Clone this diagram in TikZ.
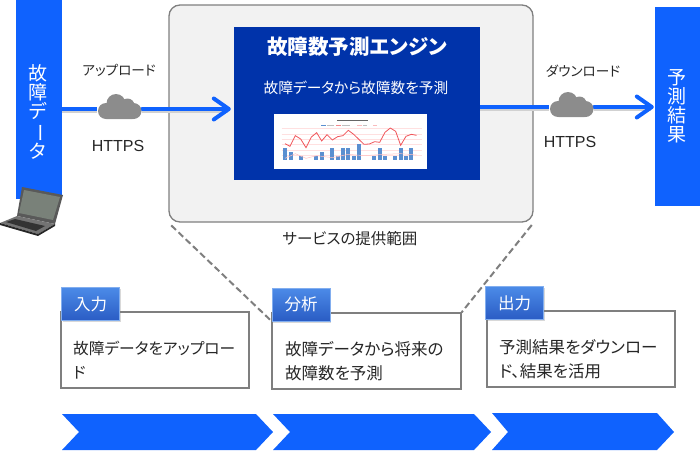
\documentclass[tikz,border=0pt]{standalone}
\usepackage{fontspec}
\setmainfont[RawFeature=+palt]{Noto Sans CJK JP}
\newfontfamily\latinfont{Liberation Sans}
\usetikzlibrary{arrows.meta,shadows}
\definecolor{flowblue}{HTML}{0F62FE}
\definecolor{engineblue}{HTML}{0033AA}
\definecolor{panelgray}{HTML}{F2F2F2}
\definecolor{edgegray}{HTML}{7F7F7F}
\definecolor{cloudgray}{HTML}{8C8C8C}
\definecolor{inkgray}{HTML}{262626}
\definecolor{tabtop}{HTML}{4C8BE8}
\definecolor{tabbottom}{HTML}{2A5CC4}
\definecolor{chartred}{HTML}{F0555A}
\definecolor{chartblue}{HTML}{5B8FD0}
\newcommand{\jpsize}[2]{\fontsize{#1}{#2}\selectfont}
\tikzset{
  sidebar/.style={fill=flowblue,minimum width=46pt,inner sep=0pt},
  sidetext/.style={text=white,align=center,font=\jpsize{19}{19}},
  flowline/.style={draw=flowblue,line width=4pt,line cap=round},
  flowtip/.style={-{Straight Barb[length=15pt,width=21pt,round]}},
  flowshadow/.style={draw=black!18,line width=4pt,transform canvas={yshift=-2pt}},
  cloudbox/.style={minimum width=45pt,minimum height=25pt,inner sep=0pt},
  plain/.style={text=inkgray,font=\jpsize{13.6}{16},inner sep=0pt},
  stepbox/.style={draw=edgegray,line width=1.2pt,fill=white,minimum width=188pt,minimum height=76pt,inner sep=0pt},
  steptext/.style={text=inkgray,align=left,anchor=west,inner sep=0pt,font=\jpsize{16.5}{24}},
  steptab/.style={draw=tabtop!70,line width=.6pt,top color=tabtop,bottom color=tabbottom,text=white,
    minimum width=58pt,minimum height=33pt,inner sep=0pt,font=\jpsize{16.5}{18},
    drop shadow={shadow xshift=1pt,shadow yshift=-1.5pt,opacity=.3}},
  chevron/.style={fill=flowblue},
  scopeedge/.style={draw=edgegray,line width=2pt,dash pattern=on 6.5pt off 3.5pt},
  pics/cloudicon/.style={code={
    \fill[cloudgray] (-13.5,2) circle [radius=8];
    \fill[cloudgray] (14,2) circle [radius=8];
    \fill[cloudgray] (-3.5,-5.5) circle [radius=9.5];
    \fill[cloudgray] (8,-3.5) circle [radius=7];
    \fill[cloudgray,rounded corners=2pt] (-15,-2) rectangle (15,10);
  }}
}
\begin{document}
\begin{tikzpicture}[x=1pt,y=-1pt]
  \useasboundingbox (0,0) rectangle (700,450);

  % side bars
  \node[sidebar,minimum height=199pt] (databar) at (39,99.5) {};
  \node[sidebar,minimum height=199pt,minimum width=45pt] (resultbar) at (677.5,106.5) {};
  \node[sidetext] (datatext) at (38,112) {故\\障\\デ\\\rotatebox[origin=c]{-90}{ー}\\タ};
  \node[sidetext] (resulttext) at (677,106) {予\\測\\結\\果};

  % service panel
  \node[draw=edgegray,line width=1.3pt,fill=panelgray,rounded corners=11pt,minimum width=364pt,minimum height=217pt,inner sep=0pt] (panel) at (351,113.5) {};
  \node[fill=engineblue,minimum width=246pt,minimum height=153pt,inner sep=0pt] (engine) at (357,103.5) {};
  \node[text=white,inner sep=0pt,font=\jpsize{20.5}{22}\bfseries] (enginetitle) at (357,47) {故障数予測エンジン};
  \node[text=white,inner sep=0pt,font=\jpsize{14.7}{16}] (enginetext) at (356,88) {故障データから故障数を予測};
  \node[plain,font=\jpsize{15.5}{18}] (paneltext) at (350,239) {サービスの提供範囲};

  % chart
  \node[fill=white,minimum width=153pt,minimum height=55pt,inner sep=0pt] (chart) at (350.5,141.5) {};
  \begin{scope}[shift={(270,105)},x=.3333pt,y=-.3333pt]
    \foreach \gy in {70,86,102,118,134,150}
      \draw[red!12,line width=.3pt] (35,\gy) -- (455,\gy);
    \foreach \bx/\by in {45/130,62/140,93/153,139/153,155/142,187/130,203/153,219/130,235/130,251/153,267/118,313/153,329/130,345/153,376/153,392/130,408/153,424/130}
      \fill[chartblue] (\bx-6,\by) rectangle (\bx+6,165);
    \draw[red!25,line width=.5pt] (45,160) -- (76,146) -- (108,160) -- (140,152) -- (187,158) -- (235,148) -- (282,152) -- (345,148) -- (392,146) -- (440,150);
    \draw[chartred,line width=.8pt] (45,116) -- (60,124) -- (76,92) -- (92,102) -- (108,128) -- (124,96) -- (140,83) -- (155,108) -- (171,89) -- (187,105) -- (203,95) -- (219,92) -- (235,76) -- (251,88) -- (282,118) -- (298,117) -- (314,110) -- (329,112) -- (345,82) -- (361,69) -- (377,79) -- (392,121) -- (408,94) -- (424,88) -- (440,91);
    \fill[black!60] (200,45) rectangle (295,49);
    \fill[chartblue] (153,60) rectangle (168,64);
    \fill[black!25] (170,60) rectangle (192,64);
    \fill[chartred!70] (198,60) rectangle (213,64);
    \fill[black!25] (215,60) rectangle (240,64);
    \fill[chartred!40] (262,60) rectangle (276,64);
    \fill[black!25] (278,60) rectangle (292,64);
    \fill[chartred!40] (308,60) rectangle (322,64);
  \end{scope}

  % clouds and flow
  \node[cloudbox] (cloudup) at (119.5,109) {};
  \node[cloudbox] (clouddown) at (571.5,107) {};
  \draw[flowshadow] (cloudup -| databar.east) -- (cloudup.west);
  \draw[flowshadow] (cloudup.east) -- ([xshift=-6pt]cloudup -| engine.west);
  \draw[flowshadow] (clouddown -| engine.east) -- (clouddown.west);
  \draw[flowshadow] (clouddown.east) -- ([xshift=-4pt]clouddown -| resultbar.west);
  \draw[flowline,line cap=butt] (cloudup -| databar.east) -- (cloudup.west);
  \draw[flowline,flowtip] (cloudup.east) -- ([xshift=-3pt]cloudup -| engine.west);
  \draw[flowline,line cap=butt] (clouddown -| engine.east) -- (clouddown.west);
  \draw[flowline,flowtip] (clouddown.east) -- ([xshift=-1pt]clouddown -| resultbar.west);
  \pic at (cloudup) {cloudicon};
  \pic at (clouddown) {cloudicon};
  \node[plain] (uptext) at (119,70) {アップロード};
  \node[plain] (downtext) at (583,71) {ダウンロード};
  \node[plain,font=\latinfont\jpsize{16}{18}] (uphttps) at (118,146) {HTTPS};
  \node[plain,font=\latinfont\jpsize{16}{18}] (downhttps) at (570,142) {HTTPS};

  % laptop
  \fill[black!65] (22,187) -- (63,195) -- (55,224) -- (17,216) -- cycle;
  \fill[black!35!green!5!gray] (24,190) -- (60,197) -- (53,220) -- (19,213) -- cycle;
  \fill[black!55] (17,216) -- (55,224) -- (38,234) -- (0,223) -- cycle;
  \fill[black!80] (15,219) -- (45,226) -- (36,231) -- (6,222) -- cycle;
  \fill[black!85] (0,223) -- (38,234) -- (55,224) -- (55,226) -- (38,236) -- (0,225) -- cycle;

  % steps
  \node[stepbox] (inputbox) at (155,350) {};
  \node[stepbox,minimum width=189pt] (analysisbox) at (366.5,351) {};
  \node[stepbox] (outputbox) at (581,349) {};
  \node[steptext,font=\jpsize{15.7}{24}] (inputtext) at (73,360) {故障データをアップロー\\ド};
  \node[steptext] (analysistext) at (285,361) {故障データから将来の\\故障数を予測};
  \node[steptext] (outputtext) at (499,359) {予測結果をダウンロー\\ド、結果を活用};
  \node[steptab] (inputtab) at (90.5,304) {入力};
  \node[steptab] (analysistab) at (301,304.5) {分析};
  \node[steptab] (outputtab) at (514.5,303) {出力};
  \draw[scopeedge,shorten <=4pt] (panel.south west) -- (analysistab.south west);
  \draw[scopeedge,shorten <=3pt] (panel.south east) -- (analysisbox.north east);

  % chevrons
  \fill[chevron] (62,414) -- (256,414) -- (273,432) -- (256,450) -- (62,450) -- (79,432) -- cycle;
  \fill[chevron] (273,414) -- (474,414) -- (491,432) -- (474,450) -- (273,450) -- (290,432) -- cycle;
  \fill[chevron] (492,413) -- (657,413) -- (674,432) -- (657,450) -- (492,450) -- (508,432) -- cycle;
\end{tikzpicture}
\end{document}
